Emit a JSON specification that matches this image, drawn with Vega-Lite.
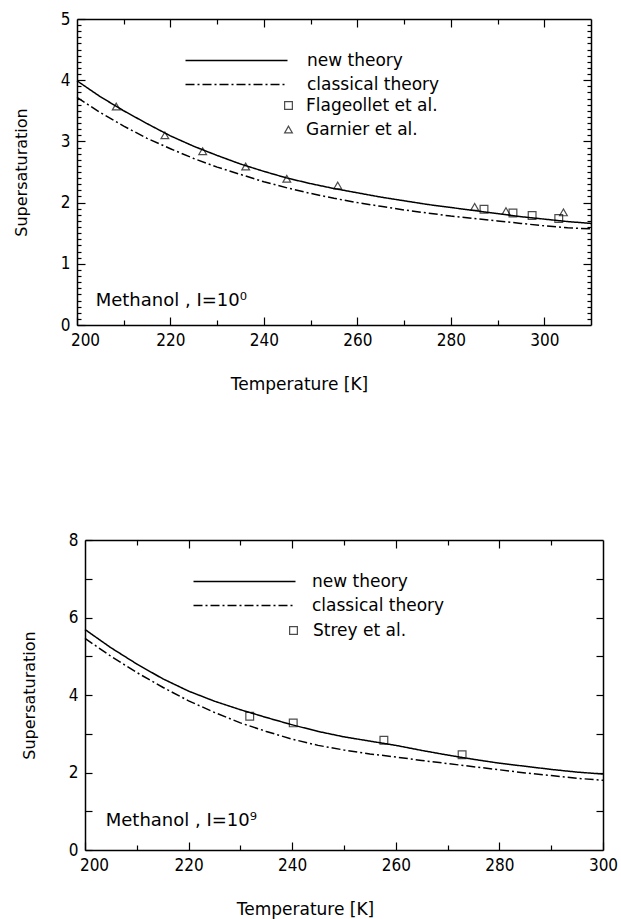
{
  "$schema": "https://vega.github.io/schema/vega-lite/v6.json",
  "background": "white",
  "padding": {"left": 13, "top": 10, "right": 5, "bottom": 5},
  "config": {
    "view": {"stroke": null},
    "font": "DejaVu Sans",
    "axis": {
      "grid": false,
      "domainColor": "black",
      "domainWidth": 1.5,
      "tickColor": "black",
      "tickWidth": 1.2,
      "labelColor": "black",
      "titleColor": "black",
      "labelFont": "DejaVu Sans Condensed",
      "labelFontSize": 17,
      "titleFont": "DejaVu Sans",
      "titleFontSize": 17,
      "titleFontWeight": "normal"
    },
    "legend": {"labelFont": "DejaVu Sans", "labelFontSize": 17, "labelColor": "black"}
  },
  "datasets": {
    "top_curves": [
      {"T": 200, "S": 3.99, "series": "new theory"},
      {"T": 205, "S": 3.73, "series": "new theory"},
      {"T": 210, "S": 3.50, "series": "new theory"},
      {"T": 215, "S": 3.29, "series": "new theory"},
      {"T": 220, "S": 3.09, "series": "new theory"},
      {"T": 225, "S": 2.92, "series": "new theory"},
      {"T": 230, "S": 2.77, "series": "new theory"},
      {"T": 235, "S": 2.63, "series": "new theory"},
      {"T": 240, "S": 2.51, "series": "new theory"},
      {"T": 245, "S": 2.40, "series": "new theory"},
      {"T": 250, "S": 2.31, "series": "new theory"},
      {"T": 255, "S": 2.23, "series": "new theory"},
      {"T": 260, "S": 2.16, "series": "new theory"},
      {"T": 265, "S": 2.09, "series": "new theory"},
      {"T": 270, "S": 2.03, "series": "new theory"},
      {"T": 275, "S": 1.97, "series": "new theory"},
      {"T": 280, "S": 1.92, "series": "new theory"},
      {"T": 285, "S": 1.87, "series": "new theory"},
      {"T": 290, "S": 1.82, "series": "new theory"},
      {"T": 295, "S": 1.77, "series": "new theory"},
      {"T": 300, "S": 1.73, "series": "new theory"},
      {"T": 305, "S": 1.69, "series": "new theory"},
      {"T": 310, "S": 1.66, "series": "new theory"},
      {"T": 200, "S": 3.72, "series": "classical theory"},
      {"T": 205, "S": 3.47, "series": "classical theory"},
      {"T": 210, "S": 3.25, "series": "classical theory"},
      {"T": 215, "S": 3.05, "series": "classical theory"},
      {"T": 220, "S": 2.88, "series": "classical theory"},
      {"T": 225, "S": 2.72, "series": "classical theory"},
      {"T": 230, "S": 2.58, "series": "classical theory"},
      {"T": 235, "S": 2.46, "series": "classical theory"},
      {"T": 240, "S": 2.34, "series": "classical theory"},
      {"T": 245, "S": 2.24, "series": "classical theory"},
      {"T": 250, "S": 2.15, "series": "classical theory"},
      {"T": 255, "S": 2.07, "series": "classical theory"},
      {"T": 260, "S": 2.00, "series": "classical theory"},
      {"T": 265, "S": 1.94, "series": "classical theory"},
      {"T": 270, "S": 1.88, "series": "classical theory"},
      {"T": 275, "S": 1.83, "series": "classical theory"},
      {"T": 280, "S": 1.78, "series": "classical theory"},
      {"T": 285, "S": 1.74, "series": "classical theory"},
      {"T": 290, "S": 1.70, "series": "classical theory"},
      {"T": 295, "S": 1.66, "series": "classical theory"},
      {"T": 300, "S": 1.62, "series": "classical theory"},
      {"T": 305, "S": 1.59, "series": "classical theory"},
      {"T": 310, "S": 1.57, "series": "classical theory"}
    ],
    "top_points": [
      {"T": 208.4, "S": 3.57, "series": "Garnier et al."},
      {"T": 218.8, "S": 3.10, "series": "Garnier et al."},
      {"T": 226.9, "S": 2.84, "series": "Garnier et al."},
      {"T": 236.1, "S": 2.59, "series": "Garnier et al."},
      {"T": 244.9, "S": 2.39, "series": "Garnier et al."},
      {"T": 255.8, "S": 2.28, "series": "Garnier et al."},
      {"T": 285.1, "S": 1.93, "series": "Garnier et al."},
      {"T": 291.8, "S": 1.86, "series": "Garnier et al."},
      {"T": 304.1, "S": 1.84, "series": "Garnier et al."},
      {"T": 287.1, "S": 1.89, "series": "Flageollet et al."},
      {"T": 293.3, "S": 1.83, "series": "Flageollet et al."},
      {"T": 297.4, "S": 1.79, "series": "Flageollet et al."},
      {"T": 303.1, "S": 1.74, "series": "Flageollet et al."}
    ],
    "bot_curves": [
      {"T": 200, "S": 5.69, "series": "new theory"},
      {"T": 205, "S": 5.22, "series": "new theory"},
      {"T": 210, "S": 4.80, "series": "new theory"},
      {"T": 215, "S": 4.42, "series": "new theory"},
      {"T": 220, "S": 4.10, "series": "new theory"},
      {"T": 225, "S": 3.84, "series": "new theory"},
      {"T": 230, "S": 3.62, "series": "new theory"},
      {"T": 235, "S": 3.42, "series": "new theory"},
      {"T": 240, "S": 3.23, "series": "new theory"},
      {"T": 245, "S": 3.06, "series": "new theory"},
      {"T": 250, "S": 2.92, "series": "new theory"},
      {"T": 255, "S": 2.81, "series": "new theory"},
      {"T": 260, "S": 2.70, "series": "new theory"},
      {"T": 265, "S": 2.57, "series": "new theory"},
      {"T": 270, "S": 2.45, "series": "new theory"},
      {"T": 275, "S": 2.34, "series": "new theory"},
      {"T": 280, "S": 2.24, "series": "new theory"},
      {"T": 285, "S": 2.16, "series": "new theory"},
      {"T": 290, "S": 2.08, "series": "new theory"},
      {"T": 295, "S": 2.01, "series": "new theory"},
      {"T": 300, "S": 1.96, "series": "new theory"},
      {"T": 200, "S": 5.46, "series": "classical theory"},
      {"T": 205, "S": 5.00, "series": "classical theory"},
      {"T": 210, "S": 4.58, "series": "classical theory"},
      {"T": 215, "S": 4.20, "series": "classical theory"},
      {"T": 220, "S": 3.85, "series": "classical theory"},
      {"T": 225, "S": 3.55, "series": "classical theory"},
      {"T": 230, "S": 3.28, "series": "classical theory"},
      {"T": 235, "S": 3.06, "series": "classical theory"},
      {"T": 240, "S": 2.86, "series": "classical theory"},
      {"T": 245, "S": 2.70, "series": "classical theory"},
      {"T": 250, "S": 2.58, "series": "classical theory"},
      {"T": 255, "S": 2.48, "series": "classical theory"},
      {"T": 260, "S": 2.40, "series": "classical theory"},
      {"T": 265, "S": 2.31, "series": "classical theory"},
      {"T": 270, "S": 2.23, "series": "classical theory"},
      {"T": 275, "S": 2.15, "series": "classical theory"},
      {"T": 280, "S": 2.07, "series": "classical theory"},
      {"T": 285, "S": 1.99, "series": "classical theory"},
      {"T": 290, "S": 1.92, "series": "classical theory"},
      {"T": 295, "S": 1.85, "series": "classical theory"},
      {"T": 300, "S": 1.80, "series": "classical theory"}
    ],
    "bot_points": [
      {"T": 231.8, "S": 3.45, "series": "Strey et al."},
      {"T": 240.2, "S": 3.28, "series": "Strey et al."},
      {"T": 257.7, "S": 2.83, "series": "Strey et al."},
      {"T": 272.8, "S": 2.46, "series": "Strey et al."}
    ],
    "top_note": [{"label": "Methanol , I=10⁰"}],
    "bot_note": [{"label": "Methanol , I=10⁹"}]
  },
  "spacing": 139,
  "resolve": {
    "scale": {"strokeDash": "independent", "shape": "independent"},
    "legend": {"strokeDash": "independent", "shape": "independent"}
  },
  "vconcat": [
    {
      "width": 514,
      "height": 306,
      "resolve": {"axis": {"x": "independent", "y": "independent"}},
      "layer": [
        {
          "data": {"name": "top_curves"},
          "mark": {"type": "line", "color": "black", "strokeWidth": 1.5},
          "encoding": {
            "x": {
              "field": "T", "type": "quantitative",
              "scale": {"domain": [200, 310], "nice": false, "zero": false},
              "axis": {
                "values": [200, 210, 220, 230, 240, 250, 260, 270, 280, 290, 300],
                "labelExpr": "datum.value % 20 === 0 ? datum.label : ''",
                "tickSize": {"condition": {"test": "datum.value % 20 === 0", "value": -8}, "value": -5},
                "labelOffset": {"condition": {"test": "datum.value === 200", "value": 8}, "value": 0},
                "labelFlush": false,
                "labelPadding": 15,
                "title": "Temperature [K]",
                "titlePadding": 28,
                "titleX": 222,
                "titleAlign": "center"
              }
            },
            "y": {
              "field": "S", "type": "quantitative",
              "scale": {"domain": [0, 5], "nice": false, "zero": false},
              "axis": {
                "values": [0, 0.1, 0.2, 0.3, 0.4, 0.5, 0.6, 0.7, 0.8, 0.9, 1, 1.1, 1.2, 1.3, 1.4, 1.5, 1.6, 1.7, 1.8, 1.9, 2, 2.1, 2.2, 2.3, 2.4, 2.5, 2.6, 2.7, 2.8, 2.9, 3, 3.1, 3.2, 3.3, 3.4, 3.5, 3.6, 3.7, 3.8, 3.9, 4, 4.1, 4.2, 4.3, 4.4, 4.5, 4.6, 4.7, 4.8, 4.9, 5],
                "labelExpr": "abs(datum.value - round(datum.value)) < 0.001 ? format(datum.value, 'd') : ''",
                "tickSize": {"condition": {"test": "abs(datum.value - round(datum.value)) < 0.001", "value": -8}, "value": -4},
                "labelFlush": false,
                "labelPadding": 15,
                "title": "Supersaturation",
                "titleFontSize": 16,
                "titlePadding": 31
              }
            },
            "strokeDash": {
              "field": "series", "type": "nominal",
              "scale": {"domain": ["new theory", "classical theory"], "range": [[1, 0], [9, 3, 2, 3]]},
              "legend": {
                "title": null, "orient": "none", "legendX": 151, "legendY": 33,
                "symbolType": "M-10.2,0H10.2", "symbolSize": 100, "symbolStrokeWidth": 1.5,
                "symbolStrokeColor": "black", "symbolFillColor": "transparent",
                "labelOffset": 62, "rowPadding": 6, "padding": 0
              }
            }
          }
        },
        {
          "data": {"name": "top_points"},
          "mark": {"type": "point", "filled": false, "color": "black", "strokeWidth": 1.2, "size": 60},
          "encoding": {
            "x": {"field": "T", "type": "quantitative", "scale": {"domain": [200, 310], "nice": false, "zero": false}, "axis": null},
            "y": {"field": "S", "type": "quantitative", "scale": {"domain": [0, 5], "nice": false, "zero": false}, "axis": null},
            "shape": {
              "field": "series", "type": "nominal",
              "scale": {"domain": ["Flageollet et al.", "Garnier et al."], "range": ["square", "triangle-up"]},
              "legend": {
                "title": null, "orient": "none", "legendX": 203, "legendY": 78,
                "symbolSize": 60, "symbolStrokeColor": "black", "symbolStrokeWidth": 1.2,
                "labelOffset": 9, "rowPadding": 6, "padding": 0
              }
            }
          }
        },
        {
          "data": {"name": "top_curves"},
          "mark": {"type": "point", "opacity": 0},
          "encoding": {
            "x": {
              "field": "T", "type": "quantitative",
              "scale": {"domain": [200, 310], "nice": false, "zero": false},
              "axis": {
                "orient": "top", "title": null, "labels": false,
                "values": [210, 220, 230, 240, 250, 260, 270, 280, 290, 300],
                "tickSize": {"condition": {"test": "datum.value % 20 === 0", "value": -8}, "value": -5}
              }
            },
            "y": {
              "field": "S", "type": "quantitative",
              "scale": {"domain": [0, 5], "nice": false, "zero": false},
              "axis": {
                "orient": "right", "title": null, "labels": false,
                "values": [0.1, 0.2, 0.3, 0.4, 0.5, 0.6, 0.7, 0.8, 0.9, 1, 1.1, 1.2, 1.3, 1.4, 1.5, 1.6, 1.7, 1.8, 1.9, 2, 2.1, 2.2, 2.3, 2.4, 2.5, 2.6, 2.7, 2.8, 2.9, 3, 3.1, 3.2, 3.3, 3.4, 3.5, 3.6, 3.7, 3.8, 3.9, 4, 4.1, 4.2, 4.3, 4.4, 4.5, 4.6, 4.7, 4.8, 4.9],
                "tickSize": {"condition": {"test": "abs(datum.value - round(datum.value)) < 0.001", "value": -8}, "value": -4}
              }
            }
          }
        },
        {
          "data": {"name": "top_note"},
          "mark": {"type": "text", "align": "left", "baseline": "middle", "fontSize": 18, "font": "DejaVu Sans", "color": "black"},
          "encoding": {
            "x": {"datum": 204, "type": "quantitative", "scale": {"domain": [200, 310], "nice": false, "zero": false}, "axis": null},
            "y": {"datum": 0.4, "type": "quantitative", "scale": {"domain": [0, 5], "nice": false, "zero": false}, "axis": null},
            "text": {"field": "label"}
          }
        }
      ]
    },
    {
      "width": 526,
      "height": 310,
      "resolve": {"axis": {"x": "independent", "y": "independent"}},
      "layer": [
        {
          "data": {"name": "bot_curves"},
          "mark": {"type": "line", "color": "black", "strokeWidth": 1.5},
          "encoding": {
            "x": {
              "field": "T", "type": "quantitative",
              "scale": {"domain": [200, 300], "range": [8, 526], "nice": false, "zero": false},
              "axis": {
                "values": [200, 210, 220, 230, 240, 250, 260, 270, 280, 290, 300],
                "labelExpr": "datum.value % 20 === 0 ? datum.label : ''",
                "tickSize": {"condition": {"test": "datum.value % 20 === 0", "value": -8}, "value": -5},
                "labelOffset": {"condition": {"test": "datum.value === 200", "value": 9}, "value": 0},
                "labelFlush": false,
                "labelPadding": 15,
                "title": "Temperature [K]",
                "titlePadding": 28,
                "titleX": 228,
                "titleAlign": "center"
              }
            },
            "y": {
              "field": "S", "type": "quantitative",
              "scale": {"domain": [0, 8], "nice": false, "zero": false},
              "axis": {
                "offset": -8,
                "values": [0, 1, 2, 3, 4, 5, 6, 7, 8],
                "labelExpr": "datum.value % 2 === 0 ? datum.label : ''",
                "tickSize": -7,
                "labelFlush": false,
                "labelPadding": 14,
                "title": "Supersaturation",
                "titleFontSize": 16,
                "titlePadding": 31
              }
            },
            "strokeDash": {
              "field": "series", "type": "nominal",
              "scale": {"domain": ["new theory", "classical theory"], "range": [[1, 0], [9, 3, 2, 3]]},
              "legend": {
                "title": null, "orient": "none", "legendX": 159, "legendY": 33,
                "symbolType": "M-10.2,0H10.2", "symbolSize": 100, "symbolStrokeWidth": 1.5,
                "symbolStrokeColor": "black", "symbolFillColor": "transparent",
                "labelOffset": 59, "rowPadding": 6, "padding": 0
              }
            }
          }
        },
        {
          "data": {"name": "bot_points"},
          "mark": {"type": "point", "filled": false, "color": "black", "strokeWidth": 1.2, "size": 60},
          "encoding": {
            "x": {"field": "T", "type": "quantitative", "scale": {"domain": [200, 300], "range": [8, 526], "nice": false, "zero": false}, "axis": null},
            "y": {"field": "S", "type": "quantitative", "scale": {"domain": [0, 8], "nice": false, "zero": false}, "axis": null},
            "shape": {
              "field": "series", "type": "nominal",
              "scale": {"domain": ["Strey et al."], "range": ["square"]},
              "legend": {
                "title": null, "orient": "none", "legendX": 208, "legendY": 82,
                "symbolSize": 60, "symbolStrokeColor": "black", "symbolStrokeWidth": 1.2,
                "labelOffset": 11, "rowPadding": 6, "padding": 0
              }
            }
          }
        },
        {
          "data": {"name": "bot_curves"},
          "mark": {"type": "point", "opacity": 0},
          "encoding": {
            "x": {
              "field": "T", "type": "quantitative",
              "scale": {"domain": [200, 300], "range": [8, 526], "nice": false, "zero": false},
              "axis": {
                "orient": "top", "title": null, "labels": false,
                "values": [210, 220, 230, 240, 250, 260, 270, 280, 290],
                "tickSize": {"condition": {"test": "datum.value % 20 === 0", "value": -8}, "value": -5}
              }
            },
            "y": {
              "field": "S", "type": "quantitative",
              "scale": {"domain": [0, 8], "nice": false, "zero": false},
              "axis": {
                "orient": "right", "title": null, "labels": false,
                "values": [1, 2, 3, 4, 5, 6, 7],
                "tickSize": -7
              }
            }
          }
        },
        {
          "data": {"name": "bot_note"},
          "mark": {"type": "text", "align": "left", "baseline": "middle", "fontSize": 18, "font": "DejaVu Sans", "color": "black"},
          "encoding": {
            "x": {"datum": 204, "type": "quantitative", "scale": {"domain": [200, 300], "range": [8, 526], "nice": false, "zero": false}, "axis": null},
            "y": {"datum": 0.75, "type": "quantitative", "scale": {"domain": [0, 8], "nice": false, "zero": false}, "axis": null},
            "text": {"field": "label"}
          }
        }
      ]
    }
  ]
}
